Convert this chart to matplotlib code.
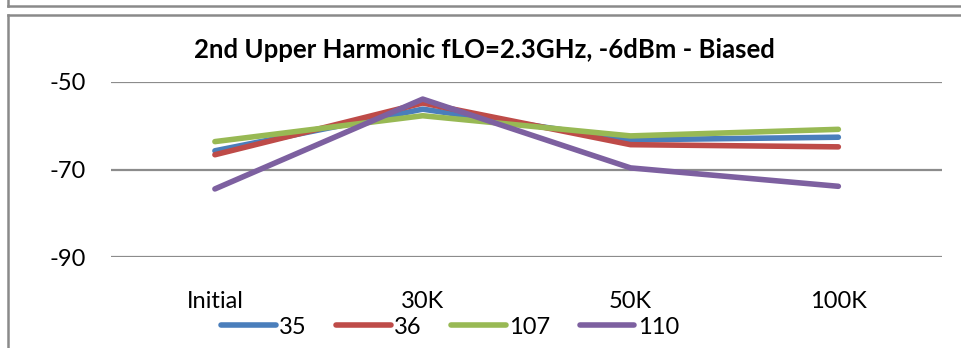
import matplotlib
matplotlib.use("Agg")
import matplotlib.pyplot as plt
from matplotlib.lines import Line2D

plt.rcParams['font.family'] = ['Lato', 'DejaVu Sans']
plt.rcParams['axes.unicode_minus'] = False

categories = ["Initial", "30K", "50K", "100K"]
series_names = ["35", "36", "107", "110"]
s35 = [-65.7, -56.2, -63.2, -62.6]
s36 = [-66.6, -54.8, -64.3, -64.8]
s107 = [-63.6, -57.7, -62.3, -60.8]
s110 = [-74.4, -53.9, -69.6, -73.8]
colors = ["#4a7ebb", "#be4b48", "#98b954", "#7d60a0"]

fig = plt.figure(figsize=(9.61, 3.48), dpi=100)
ax = fig.add_axes([0.1155, 0.2606, 0.865, 0.5038])

x = range(len(categories))
for vals, name, c in zip([s35, s36, s107, s110], series_names, colors):
    ax.plot(x, vals, color=c, lw=4, solid_capstyle="round", label=name)

ax.set_xlim(-0.5, 3.5)
ax.set_ylim(-90, -50)
ax.set_yticks([-90, -70, -50])
ax.set_xticks(list(x))
ax.set_xticklabels(categories)
ax.grid(axis="y", color="#8c8c8c", lw=1.6)
ax.set_axisbelow(True)
for s in ax.spines.values():
    s.set_visible(False)
ax.tick_params(axis="both", length=0, labelsize=17)
ax.tick_params(axis="x", pad=24)
ax.tick_params(axis="y", pad=18)

fig.text(484/961, 1-50/348, "2nd Upper Harmonic fLO=2.3GHz, -6dBm - Biased",
         fontsize=18.5, fontweight="bold", ha="center", va="center")

fig.legend(loc="center", bbox_to_anchor=(450/961, 1-327/348), ncol=4, frameon=False,
           fontsize=17, handlelength=2.3, handletextpad=0.15, columnspacing=1.25,
           borderpad=0, borderaxespad=0)

# chart frames (previous chart bottom edge and this chart's border)
grey = "#8a8a8a"
fig.add_artist(Line2D([8/961, 1], [1-6/348, 1-6/348], color=grey, lw=1.8))
fig.add_artist(Line2D([8/961, 8/961], [1, 1-6/348], color=grey, lw=1.8))
fig.add_artist(Line2D([8/961, 1], [1-14.5/348, 1-14.5/348], color=grey, lw=1.8))
fig.add_artist(Line2D([8/961, 8/961], [0, 1-14.5/348], color=grey, lw=1.8))

fig.savefig("out.png", dpi=100)
